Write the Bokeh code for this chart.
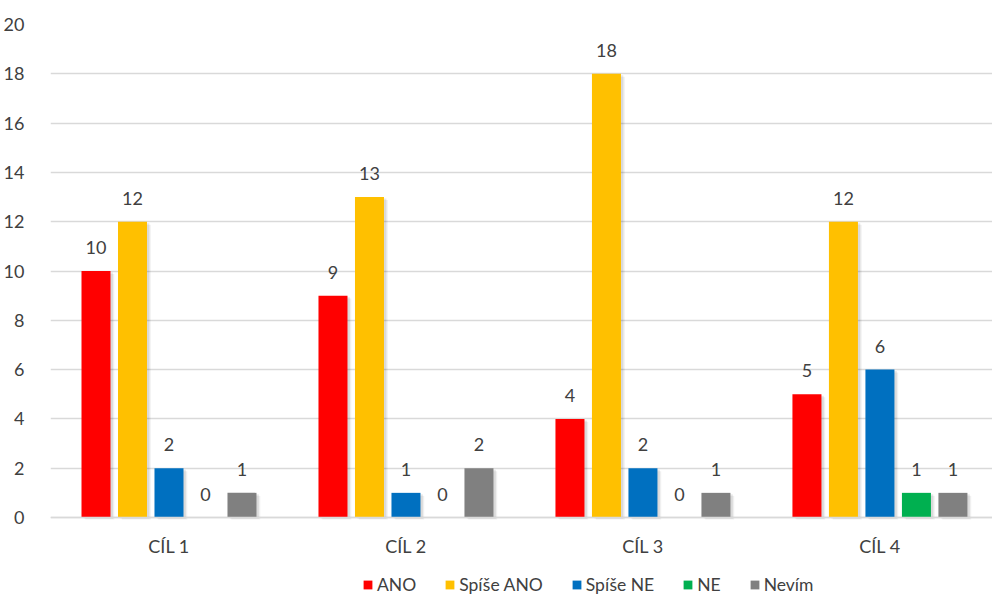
import numpy as np
from bokeh.plotting import figure
from bokeh.models import ColumnDataSource, Range1d, FixedTicker, Legend, LegendItem, LabelSet
from bokeh.core.properties import value
from bokeh.embed import file_html
from bokeh.resources import INLINE

categories = ["CÍL 1", "CÍL 2", "CÍL 3", "CÍL 4"]
series = ["ANO", "Spíše ANO", "Spíše NE", "NE", "Nevím"]
ano = [10, 9, 4, 5]
spise_ano = [12, 13, 18, 12]
spise_ne = [2, 1, 2, 6]
ne = [0, 0, 0, 1]
nevim = [1, 2, 1, 1]
colors = ["#FF0000", "#FFC000", "#0070C0", "#00B050", "#808080"]
y_ticks = [0, 2, 4, 6, 8, 10, 12, 14, 16, 18, 20]

values = [ano, spise_ano, spise_ne, ne, nevim]
FONT = "Lato"
TXT = "#404040"

W, H = 992, 595
PX_PER_UNIT = 493 / 20.0
y_bottom = -78 / PX_PER_UNIT   # room below zero for category labels and legend

p = figure(width=W, height=H, output_backend="svg", toolbar_location=None,
           x_range=Range1d(0, 3.975), y_range=Range1d(y_bottom, 20),
           min_border_left=50, min_border_right=0, min_border_top=24, min_border_bottom=0)
p.outline_line_color = None
p.background_fill_color = "white"
p.border_fill_color = "white"
p.xaxis.visible = False

centers = np.arange(len(categories)) + 0.5
pitch = 0.154
bw = 0.1224

legend_items = []
for i, (name, vals, col) in enumerate(zip(series, values, colors)):
    xs = centers + (i - 2) * pitch
    src = ColumnDataSource(dict(x=xs, top=vals, lab=[str(v) for v in vals]))
    # soft shadow (only for non-empty bars)
    sx = [x for x, v in zip(xs, vals) if v > 0]
    sv = [v for v in vals if v > 0]
    p.vbar(x=[x + 0.016 for x in sx], top=[v - 0.12 for v in sv], width=bw, bottom=-0.08,
           fill_color="black", fill_alpha=0.06, line_color=None)
    p.vbar(x=[x + 0.010 for x in sx], top=[v - 0.06 for v in sv], width=bw, bottom=-0.04,
           fill_color="black", fill_alpha=0.09, line_color=None)
    r = p.vbar(x="x", top="top", width=bw, bottom=0, source=src,
               fill_color=col, line_color=None)
    legend_items.append(LegendItem(label=name, renderers=[r]))
    labels = LabelSet(x="x", y="top", text="lab", source=src, y_offset=17,
                      text_align="center", text_baseline="alphabetic",
                      text_font=value(FONT), text_font_size="18px", text_color=TXT)
    p.add_layout(labels)

# baseline (category axis line)
p.segment(x0=[0], y0=[0], x1=[3.975], y1=[0], line_color="#D9D9D9", line_width=1.5)

# category labels
cat_src = ColumnDataSource(dict(x=centers, lab=categories))
cat_labels = LabelSet(x="x", y=0, text="lab", source=cat_src, y_offset=-28,
                      text_align="center", text_baseline="middle",
                      text_font=value(FONT), text_font_size="18px", text_color=TXT)
p.add_layout(cat_labels)

p.yaxis.ticker = FixedTicker(ticks=y_ticks)
p.yaxis.axis_line_color = None
p.yaxis.major_tick_line_color = None
p.yaxis.minor_tick_line_color = None
p.yaxis.major_label_standoff = 20
p.yaxis.major_label_text_font = FONT
p.yaxis.major_label_text_font_size = "18px"
p.yaxis.major_label_text_color = TXT

p.xgrid.grid_line_color = None
p.ygrid.grid_line_color = "#D9D9D9"
p.ygrid.grid_line_width = 1.5

legend = Legend(items=legend_items, orientation="horizontal", location=(312, 0),
                glyph_width=11, glyph_height=11, label_standoff=4, spacing=28,
                padding=0, margin=0, border_line_color=None, background_fill_alpha=0,
                label_text_font=FONT, label_text_font_size="17.5px", label_text_color=TXT)
p.add_layout(legend, "center")

open("out.html", "w").write(file_html(p, INLINE))
